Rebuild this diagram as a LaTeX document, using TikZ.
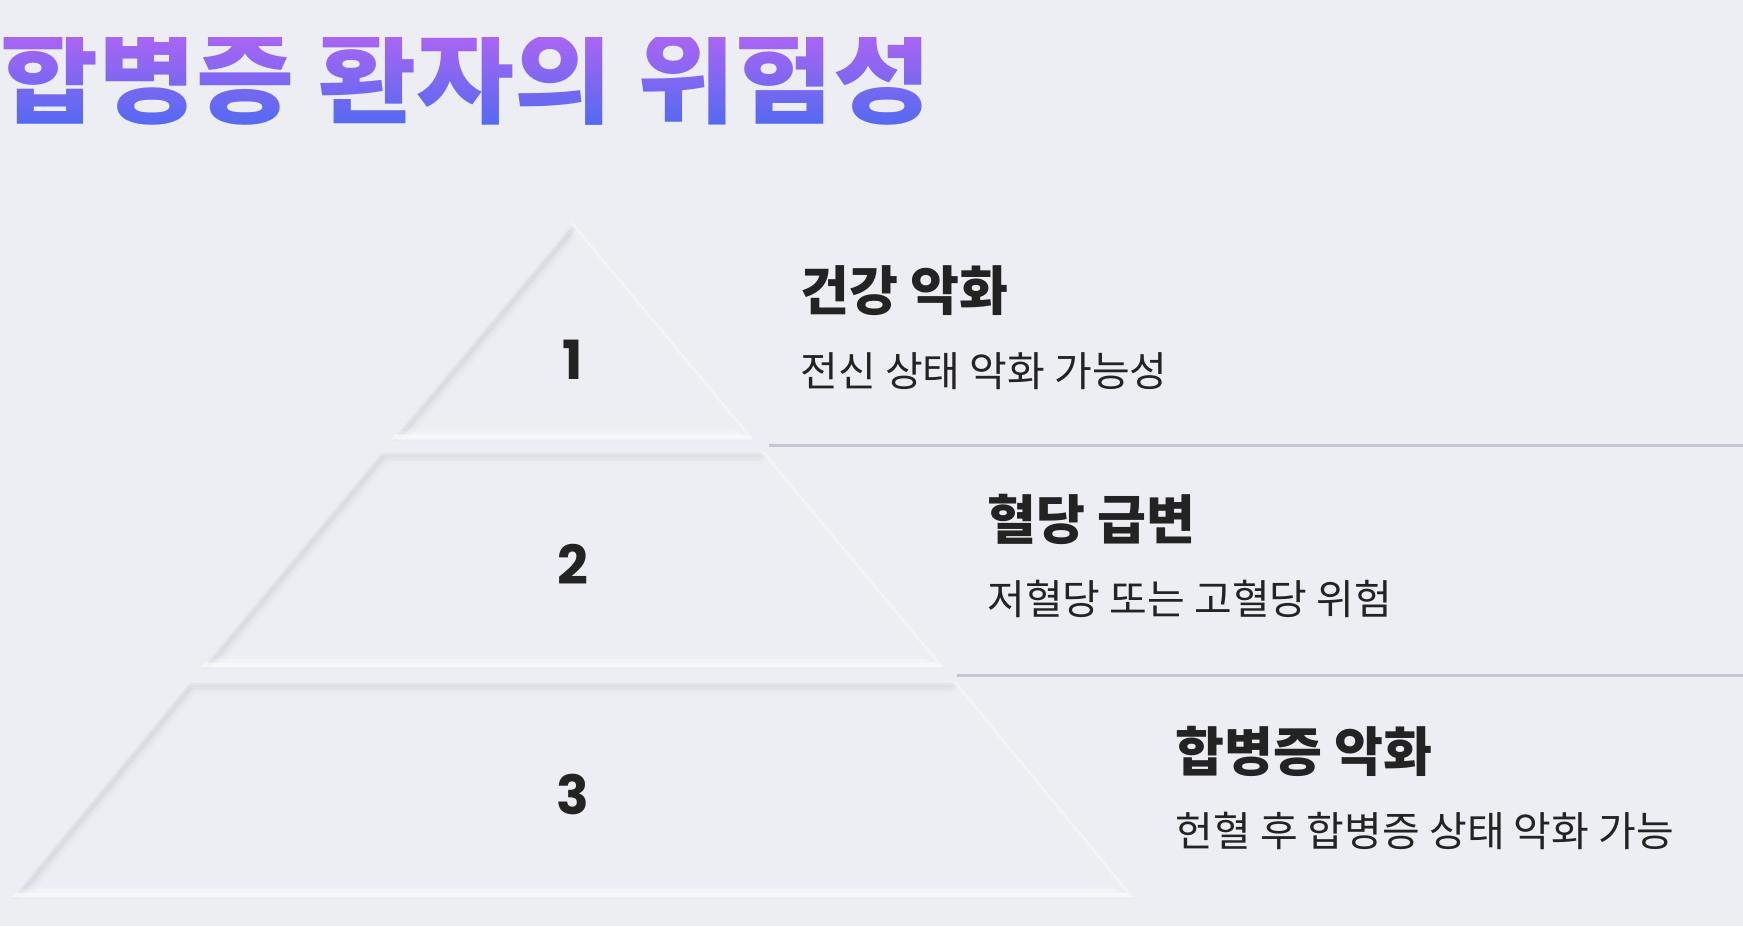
\documentclass[tikz,border=0pt]{standalone}
\usepackage{fontspec}
\usetikzlibrary{fadings}
\newfontfamily\krfont{Noto Sans CJK KR}
\newfontfamily\krtitle{Noto Sans CJK KR}[FakeStretch=1.045]
\newfontfamily\numfont{Poppins}
\definecolor{bg}{HTML}{EDEEF3}
\definecolor{ink}{HTML}{232323}
\definecolor{rulec}{HTML}{C5C6D3}
\definecolor{shadowc}{HTML}{9A9CAA}
\definecolor{tpurple}{HTML}{A865F2}
\definecolor{tblue}{HTML}{326CF0}
\newcommand\titlefontcmd{\krtitle\bfseries\fontsize{51pt}{56pt}\selectfont}
\newcommand\titlestr{합병증 환자의 위험성}
\pgfdeclarefading{titlefade}{\color{white}\titlefontcmd\titlestr}
\newlength\titleht
\newlength\titledp
\newlength\titlewd
\settoheight\titleht{\titlefontcmd\titlestr}
\settodepth\titledp{\titlefontcmd\titlestr}
\settowidth\titlewd{\titlefontcmd\titlestr}
\tikzset{
  head/.style={font={\krfont\bfseries\fontsize{26.6pt}{30pt}\selectfont}, text=ink, inner sep=0pt, anchor=base west},
  subtext/.style={font={\krfont\fontsize{20.5pt}{24pt}\selectfont}, text=ink, inner sep=0pt, anchor=base west},
  num/.style={font={\numfont\bfseries\fontsize{27pt}{30pt}\selectfont}, text=ink, inner sep=0pt, anchor=center},
  divider/.style={draw=rulec, line width=1.5pt},
}
\begin{document}
\begin{tikzpicture}[x=0.5pt,y=-0.5pt]
\fill[bg] (0,0) rectangle (1743,926);
\useasboundingbox (0,0) rectangle (1743,926);

% title with vertical gradient
\node[inner sep=0pt, font=\titlefontcmd, anchor=base west] (title) at (14,137) {\phantom{\titlestr}};
\shade[path fading=titlefade, fit fading=false, fading transform={xshift={0.5\titlewd}, yshift={\titledp-\titleht}}, top color=tpurple, bottom color=tblue] ([shift={(-12,12)}]title.south west) rectangle ([shift={(12,-12)}]title.north east);

% pyramid tiers (inset neumorphic)
\foreach \ax/\ay/\bx/\by/\cx/\cy/\dx/\dy in {573/222/573/222/755/440/391/440, 381/452/765/452/945/668/201/668, 189/682/957/682/1135/898/11/898}{
  \begin{scope}
    \clip (\ax,\ay) -- (\bx,\by) -- (\cx,\cy) -- (\dx,\dy) -- cycle;
    \foreach \w/\o in {9/0.03, 6/0.05, 3.5/0.07, 2/0.09}{
      \draw[shadowc, line width=\w pt, opacity=\o, line join=miter, shift={(3,3)}] (\ax,\ay) -- (\bx,\by) -- (\cx,\cy) -- (\dx,\dy) -- cycle;
    }
    \foreach \w/\o in {9/0.15, 6/0.2, 3.5/0.3, 2/0.45}{
      \draw[white, line width=\w pt, opacity=\o, line join=miter, shift={(-3,-3)}] (\ax,\ay) -- (\bx,\by) -- (\cx,\cy) -- (\dx,\dy) -- cycle;
    }
  \end{scope}
}

% numbers
\node[num] (n1) at (573,360) {1};
\node[num] (n2) at (573,564) {2};
\node[num] (n3) at (573,794) {3};

% dividers
\coordinate (d1a) at (769,445);
\coordinate (d1b) at (1743,445);
\coordinate (d2a) at (957,675);
\coordinate (d2b) at (1743,675);
\draw[divider] (d1a) -- (d1b);
\draw[divider] (d2a) -- (d2b);

% texts
\node[head] (h1) at (800,310) {건강 악화};
\node[subtext] (s1) at (800,386) {전신 상태 악화 가능성};
\node[head] (h2) at (987,539) {혈당 급변};
\node[subtext] (s2) at (987,614) {저혈당 또는 고혈당 위험};
\node[head] (h3) at (1175,771) {합병증 악화};
\node[subtext] (s3) at (1175,846) {헌혈 후 합병증 상태 악화 가능};
\end{tikzpicture}
\end{document}
